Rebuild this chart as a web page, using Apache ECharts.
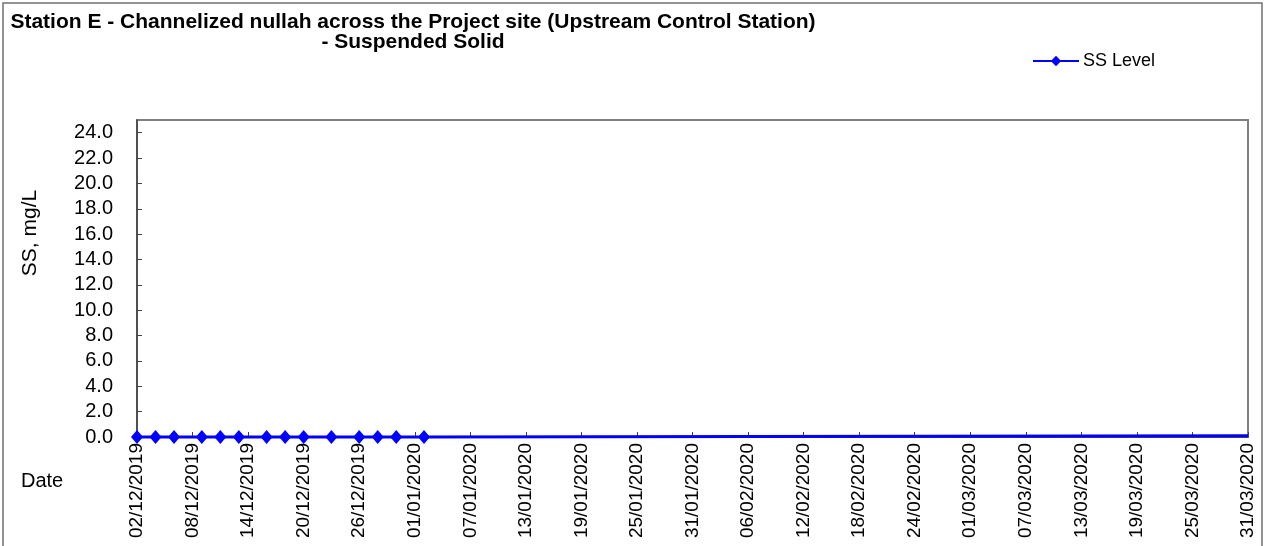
<!DOCTYPE html>
<html>
<head>
<meta charset="utf-8">
<title>Station E - Suspended Solid</title>
<script src="https://cdn.jsdelivr.net/npm/echarts@6/dist/echarts.min.js"></script>
<style>
  html, body { margin: 0; padding: 0; background: #fff; }
  #chart { width: 1266px; height: 546px; }
</style>
</head>
<body>
<div id="chart"></div>
<script>
// Sampling dates (dd/mm/yyyy) and measured suspended solids, mg/L
const sampleDates = [
  '02/12/2019', '04/12/2019', '06/12/2019', '09/12/2019', '11/12/2019',
  '13/12/2019', '16/12/2019', '18/12/2019', '20/12/2019', '23/12/2019',
  '26/12/2019', '28/12/2019', '30/12/2019', '02/01/2020', '31/03/2020'
];
const ssLevel = [0, 0, 0, 0, 0, 0, 0, 0, 0, 0, 0, 0, 0, 0, 0.1];
// The last entry is the end of the reporting period and carries no marker
const markerShown = [true, true, true, true, true, true, true, true, true, true, true, true, true, true, false];

const axisStart = '02/12/2019';
const axisEnd = '31/03/2020';
const dayStep = 6;
const yMin = 0;
const yMax = 25;      // axis top; labelled ticks stop at 24.0
const yStep = 2;

const DAY = 86400000;
function parseDate(s) {
  const [d, m, y] = s.split('/').map(Number);
  return Date.UTC(y, m - 1, d);
}
const t0 = parseDate(axisStart);
const dayOf = s => Math.round((parseDate(s) - t0) / DAY);
function fmtDay(n) {
  const dt = new Date(t0 + n * DAY);
  const dd = String(dt.getUTCDate()).padStart(2, '0');
  const mm = String(dt.getUTCMonth() + 1).padStart(2, '0');
  return dd + '/' + mm + '/' + dt.getUTCFullYear();
}

const seriesData = sampleDates.map((s, i) => ({
  value: [dayOf(s), ssLevel[i]],
  symbol: markerShown[i] ? 'diamond' : 'none'
}));

const FONT = 'Arial, "Liberation Sans", sans-serif';
const chart = echarts.init(document.getElementById('chart'), null, { renderer: 'canvas' });

chart.setOption({
  animation: false,
  backgroundColor: '#ffffff',
  title: {
    text: 'Station E - Channelized nullah across the Project site (Upstream Control Station)\n- Suspended Solid',
    left: 408,
    top: 7,
    textAlign: 'center',
    textStyle: {
      fontFamily: FONT,
      fontSize: 21,
      fontWeight: 'bold',
      color: '#000',
      lineHeight: 20
    }
  },
  legend: {
    left: 1027,
    top: 47,
    itemWidth: 46,
    itemHeight: 13,
    itemGap: 5,
    textStyle: { fontFamily: FONT, fontSize: 18, color: '#000', padding: [0, 0, 0, -1] },
    data: ['SS Level']
  },
  grid: {
    left: 137,
    right: 18,
    top: 120,
    bottom: 109,
    show: true,
    borderColor: '#808080',
    borderWidth: 2,
    backgroundColor: '#ffffff'
  },
  xAxis: {
    type: 'value',
    min: 0,
    max: dayOf(axisEnd),
    interval: dayStep,
    splitLine: { show: false },
    axisLine: { lineStyle: { color: '#404040', width: 1.5 } },
    axisTick: { inside: true, length: 5, lineStyle: { color: '#404040' } },
    axisLabel: {
      rotate: 90,
      margin: 6,
      fontFamily: FONT,
      fontSize: 19,
      color: '#000',
      showMaxLabel: true,
      showMinLabel: true,
      formatter: v => fmtDay(v)
    }
  },
  yAxis: {
    type: 'value',
    min: yMin,
    max: yMax,
    interval: yStep,
    splitLine: { show: false },
    axisLine: { show: true, lineStyle: { color: '#404040', width: 1.5 } },
    axisTick: { show: true, inside: true, length: 5, lineStyle: { color: '#404040' } },
    axisLabel: {
      margin: 24,
      fontFamily: FONT,
      fontSize: 20,
      color: '#000',
      showMaxLabel: false,
      formatter: v => (v % yStep === 0 ? v.toFixed(1) : '')
    }
  },
  graphic: [
    {
      type: 'rect',
      silent: true,
      shape: { x: 3, y: 3, width: 1259, height: 560 },
      style: { fill: 'none', stroke: '#707070', lineWidth: 1.5 },
      z: -1
    },
    {
      type: 'text',
      silent: true,
      x: 30,
      y: 233,
      rotation: Math.PI / 2,
      style: {
        text: 'SS, mg/L',
        font: '21px ' + FONT,
        fill: '#000',
        align: 'center',
        verticalAlign: 'middle'
      }
    },
    {
      type: 'text',
      silent: true,
      x: 21,
      y: 481,
      style: {
        text: 'Date',
        font: '20px ' + FONT,
        fill: '#000',
        align: 'left',
        verticalAlign: 'middle'
      }
    }
  ],
  series: [
    {
      name: 'SS Level',
      type: 'line',
      data: seriesData,
      symbol: 'diamond',
      symbolSize: [12, 14],
      showAllSymbol: true,
      clip: false,
      itemStyle: { color: '#0000ff' },
      lineStyle: { color: '#0000ff', width: 3 }
    }
  ]
});
</script>
</body>
</html>
